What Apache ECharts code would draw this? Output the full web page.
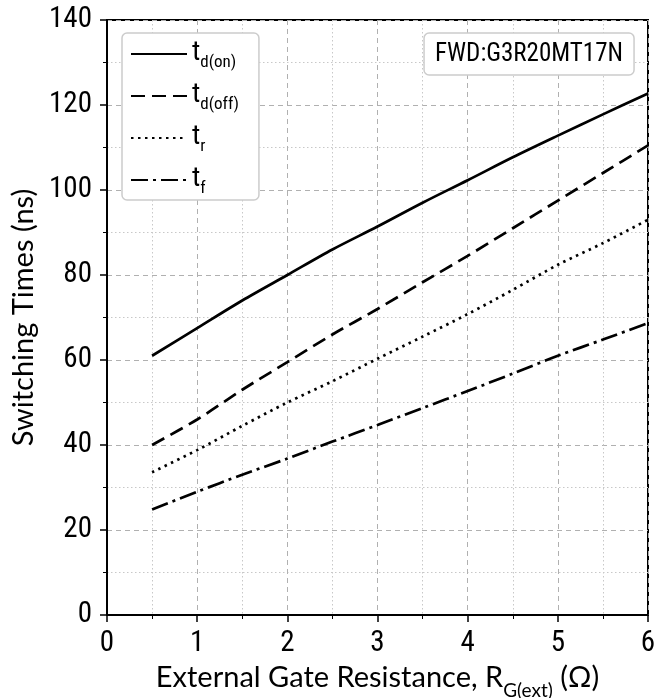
<!DOCTYPE html>
<html><head><meta charset="utf-8">
<script src="https://cdn.jsdelivr.net/npm/echarts@6/dist/echarts.min.js"></script>
<style>html,body{margin:0;padding:0;background:#fff}#c{width:670px;height:698px}</style>
</head><body><div id="c"></div>
<script>
const rg = [0.5, 1, 1.5, 2, 2.5, 3, 3.5, 4, 4.5, 5, 5.5, 6];
const tdOn  = [61, 67.5, 74, 80, 86, 91.4, 97, 102.3, 107.7, 112.8, 117.8, 122.7];
const tdOff = [40, 46, 53, 59.5, 66, 72, 78.3, 84.5, 91, 97.5, 104, 110.5];
const tR    = [33.6, 38.8, 44.5, 50, 55, 60.3, 65.5, 70.8, 76.5, 82.4, 87.5, 93];
const tF    = [24.8, 29, 33, 36.8, 40.8, 44.7, 48.7, 52.7, 56.8, 61, 64.8, 68.7];
const seriesNames = ['t_d(on)', 't_d(off)', 't_r', 't_f'];
const annotation = 'FWD:G3R20MT17N';

const condFont = "'Roboto Condensed','DejaVu Sans Condensed','Liberation Sans Narrow','Noto Sans',sans-serif";
const titleFont = "Lato,'Open Sans',sans-serif";

function pairs(ys){ return rg.map((x,i)=>[x, ys[i]]); }
const dashes = ['solid', [14, 7], [2.5, 4.5], [17, 5, 3, 5]];
const datas = [tdOn, tdOff, tR, tF];

const chart = echarts.init(document.getElementById('c'), null, {renderer:'canvas'});
chart.setOption({
  animation: false,
  grid: {left:107, right:22, top:20, bottom:83, outerBoundsMode:'none', containLabel:false,
         show:true, borderColor:'#000', borderWidth:2, backgroundColor:'transparent'},
  title: {
    text: annotation, right: 36, top: 33,
    borderColor:'#ccc', borderWidth:1.5, borderRadius:5, backgroundColor:'#fff',
    padding:[9,11,8,11],
    textStyle:{fontFamily:condFont, fontSize:25, fontWeight:'normal', color:'#000'}
  },
  legend: {
    left: 122, top: 33, orient:'vertical',
    backgroundColor:'#fff', borderColor:'#ccc', borderWidth:1.5, borderRadius:5,
    padding:[6,20,3,8], itemGap:10, itemWidth:56, itemHeight:30,
    itemStyle:{opacity:0},
    data: seriesNames,
    formatter: function(n){ const p = n.split('_'); return '{t|'+p[0]+'}{s|'+p[1]+'}'; },
    textStyle:{
      color:'#000',
      rich:{
        t:{fontFamily:condFont, fontSize:28, color:'#000', lineHeight:30, verticalAlign:'top'},
        s:{fontFamily:condFont, fontSize:17, color:'#000', lineHeight:13, verticalAlign:'top', padding:[15,0,0,0]}
      }
    }
  },
  xAxis: {
    type:'value', min:0, max:6, interval:1,
    name:'{a|External Gate Resistance, R}{b|G(ext)}{a| (Ω)}',
    nameLocation:'middle', nameGap:48,
    nameTextStyle:{rich:{
      a:{fontFamily:titleFont, fontSize:29, color:'#000', lineHeight:32, verticalAlign:'top'},
      b:{fontFamily:titleFont, fontSize:19, color:'#000', lineHeight:14, verticalAlign:'top', padding:[18,0,0,0]}
    }},
    axisLine:{show:true, lineStyle:{color:'#000', width:2}},
    axisTick:{show:true, inside:false, length:7, lineStyle:{color:'#000', width:1.5}},
    minorTick:{show:true, splitNumber:2, length:4, lineStyle:{color:'#000', width:1}},
    axisLabel:{fontFamily:condFont, fontSize:29, color:'#000', margin:14},
    splitLine:{show:true, lineStyle:{color:'#b0b0b0', width:1, type:[5,4]}},
    minorSplitLine:{show:true, lineStyle:{color:'#c8c8c8', width:1, type:[1.5,2.5]}}
  },
  yAxis: {
    type:'value', min:0, max:140, interval:20,
    name:'Switching Times (ns)', nameLocation:'middle', nameGap:65,
    nameTextStyle:{fontFamily:titleFont, fontSize:29, color:'#000'},
    axisLine:{show:true, lineStyle:{color:'#000', width:2}},
    axisTick:{show:true, inside:false, length:7, lineStyle:{color:'#000', width:1.5}},
    minorTick:{show:true, splitNumber:2, length:4, lineStyle:{color:'#000', width:1}},
    axisLabel:{fontFamily:condFont, fontSize:29, color:'#000', margin:15},
    splitLine:{show:true, lineStyle:{color:'#b0b0b0', width:1, type:[5,4]}},
    minorSplitLine:{show:true, lineStyle:{color:'#c8c8c8', width:1, type:[1.5,2.5]}}
  },
  series: datas.map((d,i)=>({
    name: seriesNames[i], type:'line', data: pairs(d), smooth:0.3,
    symbol:'none', color:'#000',
    lineStyle:{color:'#000', width:2.7, type:dashes[i], cap:'butt'}
  }))
});
</script></body></html>
